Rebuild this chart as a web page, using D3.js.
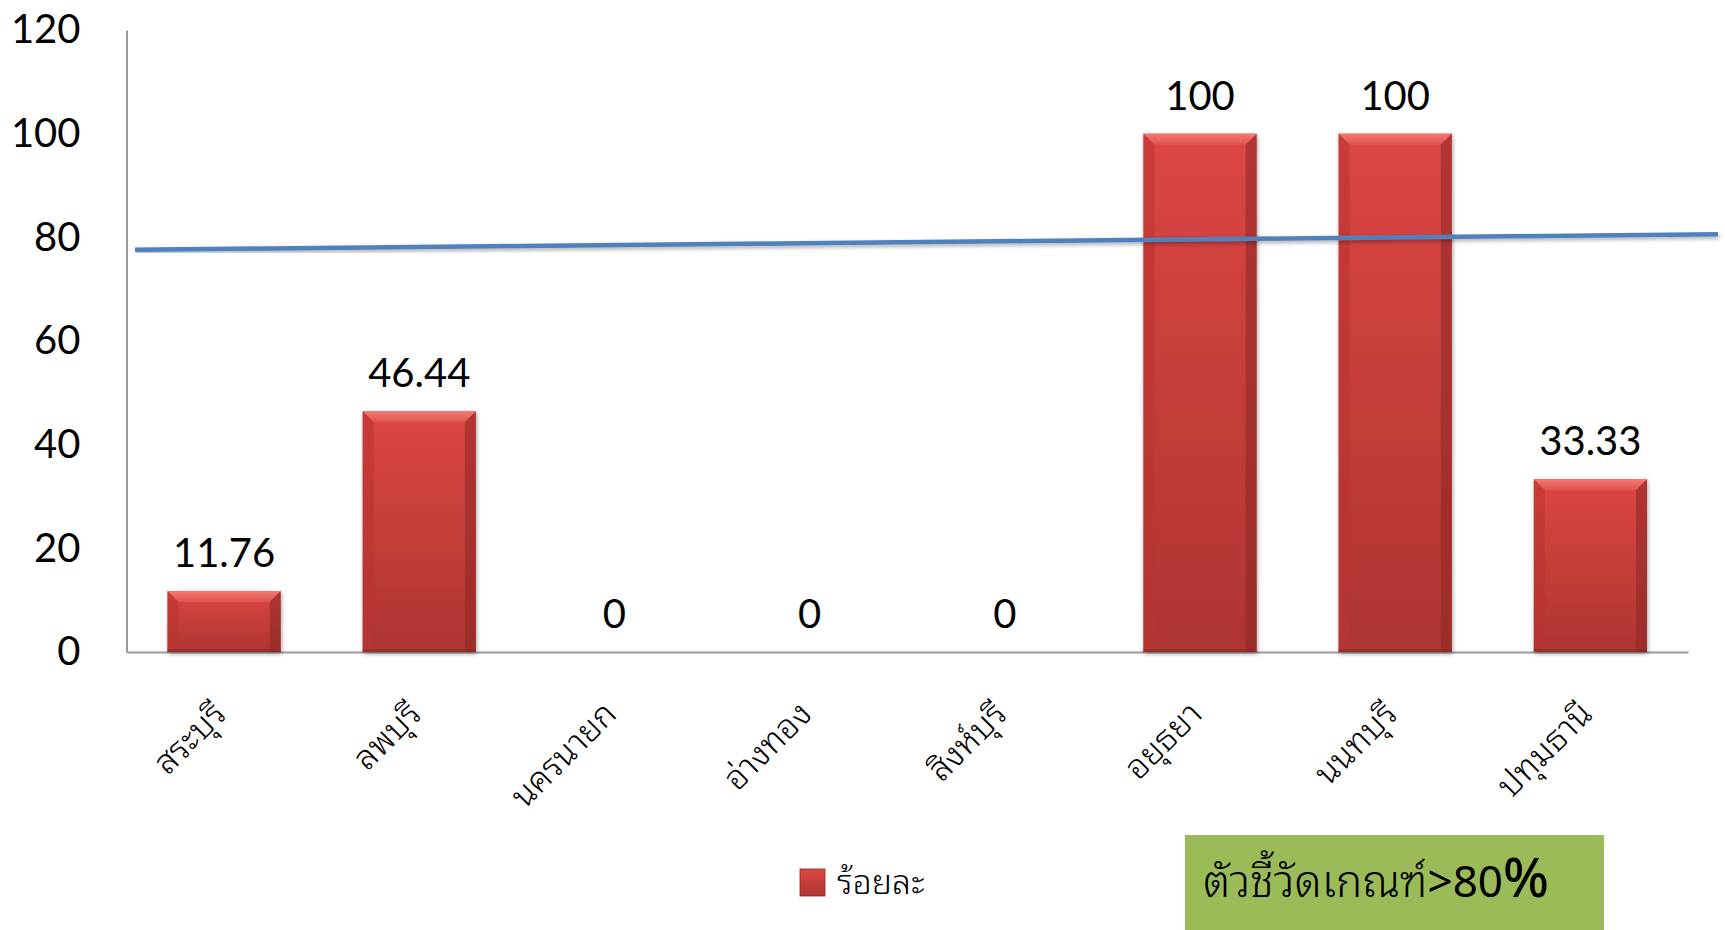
<!DOCTYPE html>
<html><head><meta charset="utf-8">
<script src="https://cdn.jsdelivr.net/npm/d3@7"></script>
<style>
html,body{margin:0;padding:0;background:#fff;}
svg{display:block;}
</style></head>
<body>
<svg id="chart" width="1725" height="930"></svg>
<script>
const categories = ["สระบุรี","ลพบุรี","นครนายก","อ่างทอง","สิงห์บุรี","อยุธยา","นนทบุรี","ปทุมธานี"];
const values = [11.76, 46.44, 0, 0, 0, 100, 100, 33.33];
const valueLabels = ["11.76","46.44","0","0","0","100","100","33.33"];
const yTicks = [0, 20, 40, 60, 80, 100, 120];
const targetStart = 77.6;   // blue indicator line, left end
const targetEnd = 80.6;     // blue indicator line, right end
const seriesName = "ร้อยละ";
const notePart1 = "ตัวชี้วัดเกณฑ์";
const notePart2 = ">80";
const notePart3 = "%";

(function(){
const svg = d3.select("#chart");
const pL = 126.5, pR = 1688, pT = 30, pB = 652;
const numFont = "Lato, 'Open Sans', sans-serif";
const thaiFont = "'Noto Sans Thai Looped', Loma, Garuda, Norasi, 'Noto Sans Thai', 'Noto Sans', Tahoma, sans-serif";

const x = d3.scaleBand().domain(categories).range([pL, pR]).paddingInner(0.42).paddingOuter(0.21);
const y = d3.scaleLinear().domain([0, 120]).range([pB, pT]);

const defs = svg.append("defs");
const g1 = defs.append("linearGradient").attr("id","barGrad").attr("x1",0).attr("y1",0).attr("x2",0).attr("y2",1);
g1.append("stop").attr("offset","0%").attr("stop-color","#dc4642");
g1.append("stop").attr("offset","100%").attr("stop-color","#ad3532");
const g2 = defs.append("linearGradient").attr("id","topGrad").attr("x1",0).attr("y1",0).attr("x2",0).attr("y2",1);
g2.append("stop").attr("offset","0%").attr("stop-color","#f47a74");
g2.append("stop").attr("offset","100%").attr("stop-color","#e0524d");
const f = defs.append("filter").attr("id","shadow").attr("x","-10%").attr("y","-10%").attr("width","130%").attr("height","130%");
f.append("feGaussianBlur").attr("in","SourceAlpha").attr("stdDeviation",2);
f.append("feOffset").attr("dx",1).attr("dy",2).attr("result","ob");
f.append("feComponentTransfer").append("feFuncA").attr("type","linear").attr("slope",0.35);
const fm = f.append("feMerge"); fm.append("feMergeNode"); fm.append("feMergeNode").attr("in","SourceGraphic");

// axes
const yAxis = d3.axisLeft(y).tickValues(yTicks).tickSize(0).tickPadding(46);
const gy = svg.append("g").attr("transform",`translate(${pL},0)`).call(yAxis);
gy.select(".domain").attr("stroke","#9a9a9a").attr("stroke-width",2);
gy.selectAll("text").attr("font-family",numFont).attr("font-size",40).attr("fill","#000");

const xAxis = d3.axisBottom(x).tickSize(0).tickFormat("");
const gx = svg.append("g").attr("transform",`translate(0,${pB})`).call(xAxis);
gx.select(".domain").attr("stroke","#9a9a9a").attr("stroke-width",2);

// bars
const bw = x.bandwidth();
const bev = 11;
const bars = svg.append("g");
categories.forEach((c, i) => {
  const v = values[i];
  if (v <= 0) return;
  const x0 = x(c), x1 = x0 + bw, y0 = y(v), y1 = y(0);
  const gb = bars.append("g").attr("filter","url(#shadow)");
  gb.append("rect").attr("x",x0).attr("y",y0).attr("width",bw).attr("height",y1-y0).attr("fill","url(#barGrad)");
  gb.append("polygon").attr("points",`${x0},${y0} ${x1},${y0} ${x1-bev},${y0+bev} ${x0+bev},${y0+bev}`).attr("fill","url(#topGrad)");
  gb.append("polygon").attr("points",`${x0},${y0} ${x0+bev},${y0+bev} ${x0+bev},${y1} ${x0},${y1}`).attr("fill","#b8332f").attr("opacity",0.55);
  gb.append("polygon").attr("points",`${x1},${y0} ${x1-bev},${y0+bev} ${x1-bev},${y1} ${x1},${y1}`).attr("fill","#8e2624").attr("opacity",0.55);
  gb.append("rect").attr("x",x0).attr("y",y1-3).attr("width",bw).attr("height",3).attr("fill","#8a2a28").attr("opacity",0.6);
});

// data labels
svg.append("g").selectAll("text").data(categories).join("text")
  .attr("x", c => x(c) + bw/2)
  .attr("y", (c,i) => y(values[i]) - 24)
  .attr("text-anchor","middle")
  .attr("font-family",numFont).attr("font-size",40).attr("fill","#000")
  .text((c,i) => valueLabels[i]);

// category labels rotated
svg.append("g").selectAll("text").data(categories).join("text")
  .attr("transform", c => `translate(${x(c) + bw/2 + 4},${pB + 64}) rotate(-45)`)
  .attr("text-anchor","end")
  .attr("font-family",thaiFont).attr("font-size",34).attr("font-weight",300).attr("fill","#000")
  .text(c => c);

// blue indicator line (extends past plot area)
const xf = d3.scaleLinear().domain([0,1]).range([pL, pR]);
const lineData = [[0.0055, targetStart],[1.0192, targetEnd]];
const lineGen = d3.line().x(d => xf(d[0])).y(d => y(d[1]));
svg.append("path").datum(lineData).attr("d", lineGen)
  .attr("stroke","#4f81bd").attr("stroke-width",4.5).attr("fill","none")
  .attr("filter","url(#shadow)");

// legend
const lg = svg.append("g").attr("transform",`translate(800,869)`);
lg.append("rect").attr("width",25).attr("height",27).attr("fill","url(#barGrad)").attr("stroke","#8e2624").attr("stroke-width",0.8);
lg.append("text").attr("x",37).attr("y",25).attr("font-family",thaiFont).attr("font-size",34).attr("font-weight",300).attr("fill","#000").text(seriesName);

// green note box
const nb = svg.append("g").attr("transform",`translate(1185,835)`);
nb.append("rect").attr("width",419).attr("height",95).attr("fill","#9bbb59");
const nt = nb.append("text").attr("x",18).attr("y",62).attr("font-family",thaiFont).attr("font-size",44).attr("font-weight",300).attr("fill","#000");
nt.append("tspan").text(notePart1);
nt.append("tspan").attr("font-weight",400).text(notePart2);
nt.append("tspan").attr("font-size",54).attr("font-weight",500).text(notePart3);
})();
</script>
</body></html>
